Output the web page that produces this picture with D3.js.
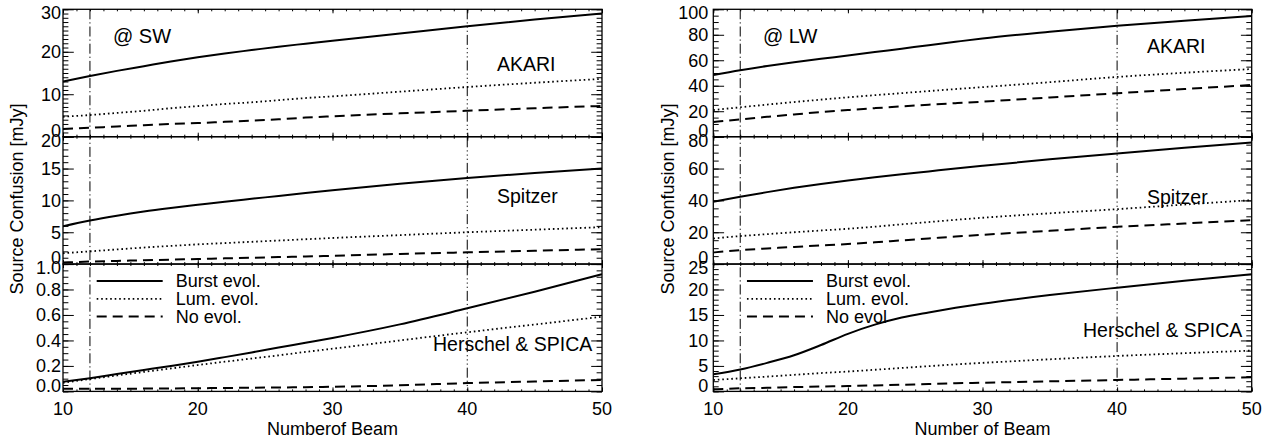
<!DOCTYPE html>
<html>
<head>
<meta charset="utf-8">
<script src="https://cdn.jsdelivr.net/npm/d3@7"></script>
<style>
  body { margin: 0; background: #fff; }
  svg { display: block; }
  text { font-family: "Liberation Sans", Arial, Helvetica, sans-serif; fill: #000; }
</style>
</head>
<body>
<div id="chart"></div>
<script>

var beams = [10, 12, 14, 16, 18, 20, 22, 24, 26, 28, 30, 35, 40, 45, 50];

// @ SW
var swAkariBurst = [13.0, 14.3, 15.5, 16.6, 17.7, 18.7, 19.6, 20.4, 21.2, 21.9, 22.6, 24.3, 26.0, 27.6, 29.0];
var swAkariLum   = [4.7, 5.1, 5.6, 6.1, 6.7, 7.2, 7.7, 8.1, 8.6, 9.1, 9.5, 10.6, 11.7, 12.7, 13.6];
var swAkariNo    = [1.8, 2.1, 2.4, 2.7, 3.0, 3.2, 3.5, 3.8, 4.1, 4.5, 4.8, 5.5, 6.1, 6.7, 7.25];

var swSpitzerBurst = [5.95, 6.85, 7.6, 8.25, 8.8, 9.3, 9.8, 10.25, 10.7, 11.15, 11.6, 12.6, 13.5, 14.3, 15.0];
var swSpitzerLum   = [1.7, 2.0, 2.3, 2.6, 2.85, 3.1, 3.3, 3.5, 3.7, 3.9, 4.1, 4.55, 5.0, 5.4, 5.8];
var swSpitzerNo    = [0.25, 0.4, 0.5, 0.6, 0.7, 0.8, 0.9, 1.0, 1.1, 1.2, 1.3, 1.6, 1.85, 2.1, 2.35];

var swHerschelBurst = [0.076, 0.104, 0.136, 0.168, 0.2, 0.233, 0.269, 0.306, 0.344, 0.382, 0.42, 0.526, 0.652, 0.782, 0.92];
var swHerschelLum   = [0.068, 0.097, 0.125, 0.153, 0.18, 0.207, 0.233, 0.258, 0.283, 0.31, 0.335, 0.40, 0.464, 0.525, 0.586];
var swHerschelNo    = [0.02, 0.02, 0.021, 0.022, 0.023, 0.025, 0.027, 0.029, 0.031, 0.033, 0.036, 0.048, 0.065, 0.078, 0.09];

// @ LW
var lwAkariBurst = [48.4, 52.2, 55.5, 58.4, 61.1, 63.7, 66.4, 69.1, 71.8, 74.5, 77.1, 82.4, 87.1, 91.0, 94.7];
var lwAkariLum   = [20.9, 23.1, 25.2, 27.2, 29.1, 30.9, 32.6, 34.2, 35.8, 37.4, 38.9, 42.8, 46.9, 50.2, 53.1];
var lwAkariNo    = [11.5, 13.6, 15.6, 17.5, 19.3, 20.9, 22.4, 23.8, 25.1, 26.3, 27.5, 30.8, 34.1, 37.4, 40.6];

var lwSpitzerBurst = [39.1, 42.3, 45.2, 47.9, 50.3, 52.5, 54.5, 56.4, 58.2, 60.0, 61.7, 65.8, 69.5, 73.0, 76.4];
var lwSpitzerLum   = [16.1, 17.6, 18.8, 20.0, 21.1, 22.2, 23.5, 25.0, 26.4, 27.8, 29.1, 31.9, 34.5, 37.4, 40.2];
var lwSpitzerNo    = [7.3, 8.8, 9.8, 10.8, 11.7, 12.6, 13.7, 14.9, 16.1, 17.3, 18.4, 20.9, 23.4, 25.5, 27.6];

var lwHerschelBurst = [3.35, 4.3, 5.6, 7.1, 9.1, 11.3, 13.1, 14.5, 15.5, 16.4, 17.2, 18.9, 20.35, 21.7, 23.0];
var lwHerschelLum   = [2.24, 2.57, 2.9, 3.25, 3.6, 3.9, 4.25, 4.6, 4.95, 5.3, 5.6, 6.3, 6.95, 7.5, 8.0];
var lwHerschelNo    = [0.4, 0.6, 0.7, 0.85, 0.95, 1.06, 1.17, 1.3, 1.45, 1.6, 1.7, 1.97, 2.24, 2.5, 2.77];

var panelNames = ["AKARI", "Spitzer", "Herschel & SPICA"];
var legendSW = ["Burst evol.", "Lum. evol.", "No evol."];
var legendLW = ["Burst evol.", "Lum. evol.", "No evol"];
var markerBeams = [12, 40];
var xTicks = [10, 20, 30, 40, 50];

// line styles: burst / lum / no evolution
var styles = [
  { width: 2, dash: null },
  { width: 1.8, dash: "1.6,2.9" },
  { width: 2, dash: "10,6" }
];

var W = 1267, H = 440;
var panelTops = [9.3, 136.7, 264];
var panelH = 127.4;

var sides = [
  {
    id: "sw", x0: 63, x1: 602, tag: "@ SW", tagX: 113, xTitle: "Numberof Beam",
    legend: legendSW, labelGap: 2, yTitleX: 23,
    panels: [
      { domain: [0, 30], major: 10, minor: 1, series: [swAkariBurst, swAkariLum, swAkariNo], fmt: d3.format("d"), label: [497, 70.7] },
      { domain: [0, 20], major: 5, minor: 1, series: [swSpitzerBurst, swSpitzerLum, swSpitzerNo], fmt: d3.format("d"), label: [497, 203.3] },
      { domain: [0, 1], major: 0.2, minor: 0.05, series: [swHerschelBurst, swHerschelLum, swHerschelNo], fmt: d3.format(".1f"), label: [433, 351] }
    ]
  },
  {
    id: "lw", x0: 713.3, x1: 1251.7, tag: "@ LW", tagX: 763, xTitle: "Number of Beam",
    legend: legendLW, labelGap: 5, yTitleX: 674,
    panels: [
      { domain: [0, 100], major: 20, minor: 5, series: [lwAkariBurst, lwAkariLum, lwAkariNo], fmt: d3.format("d"), label: [1147, 52.7] },
      { domain: [0, 80], major: 20, minor: 5, series: [lwSpitzerBurst, lwSpitzerLum, lwSpitzerNo], fmt: d3.format("d"), label: [1147, 204] },
      { domain: [0, 25], major: 5, minor: 1, series: [lwHerschelBurst, lwHerschelLum, lwHerschelNo], fmt: d3.format("d"), label: [1083, 336.7] }
    ]
  }
];

var svg = d3.select("#chart")
  .append("svg")
  .attr("width", W)
  .attr("height", H);

function steps(max, step) {
  var n = Math.round(max / step);
  return d3.range(n + 1).map(function (i) { return +(i * step).toFixed(4); });
}

function styleTicks(g) {
  g.select(".domain").remove();
  g.selectAll(".tick line").attr("stroke", "#000").attr("stroke-width", 1);
}

sides.forEach(function (side) {
  var x = d3.scaleLinear().domain([10, 50]).range([side.x0, side.x1]);
  var g = svg.append("g").attr("class", side.id);

  side.panels.forEach(function (p, i) {
    var top = panelTops[i];
    var bottom = top + panelH;
    var y = d3.scaleLinear().domain(p.domain).range([bottom, top]);
    var clipId = "clip-" + side.id + i;

    g.append("clipPath").attr("id", clipId)
      .append("rect")
      .attr("x", side.x0).attr("y", top)
      .attr("width", side.x1 - side.x0).attr("height", panelH);

    // curves
    var line = d3.line()
      .x(function (d, k) { return x(beams[k]); })
      .y(function (d) { return y(d); })
      .curve(d3.curveMonotoneX);

    p.series.forEach(function (s, k) {
      g.append("path")
        .datum(s)
        .attr("clip-path", "url(#" + clipId + ")")
        .attr("fill", "none")
        .attr("stroke", "#000")
        .attr("stroke-width", styles[k].width)
        .attr("stroke-dasharray", styles[k].dash)
        .attr("d", line);
    });

    // y ticks, inward on both sides
    var majors = steps(p.domain[1], p.major);
    var minors = steps(p.domain[1], p.minor);
    [[d3.axisLeft, side.x0], [d3.axisRight, side.x1]].forEach(function (a) {
      g.append("g").attr("transform", "translate(" + a[1] + ",0)")
        .call(a[0](y).tickValues(minors).tickSize(-5.4).tickFormat(""))
        .call(styleTicks);
      g.append("g").attr("transform", "translate(" + a[1] + ",0)")
        .call(a[0](y).tickValues(majors).tickSize(-10.8).tickFormat(""))
        .call(styleTicks);
    });

    // x ticks on top and bottom of every panel
    [[d3.axisTop, top], [d3.axisBottom, bottom]].forEach(function (a) {
      g.append("g").attr("transform", "translate(0," + a[1] + ")")
        .call(a[0](x).tickValues(d3.range(10, 51)).tickSize(-2).tickFormat(""))
        .call(styleTicks);
      g.append("g").attr("transform", "translate(0," + a[1] + ")")
        .call(a[0](x).tickValues(xTicks).tickSize(-4).tickFormat(""))
        .call(styleTicks);
    });

    // frame
    g.append("rect")
      .attr("x", side.x0).attr("y", top)
      .attr("width", side.x1 - side.x0).attr("height", panelH)
      .attr("fill", "none").attr("stroke", "#000").attr("stroke-width", 1.3);

    // y tick labels (end labels pulled inside the panel)
    g.append("g").selectAll("text")
      .data(majors)
      .join("text")
      .attr("x", side.x0 - side.labelGap)
      .attr("y", function (v) {
        var dy = 0;
        if (v === p.domain[1]) dy = 3.5;
        if (v === p.domain[0]) dy = -6;
        return y(v) + dy;
      })
      .attr("dy", "0.35em")
      .attr("text-anchor", "end")
      .style("font-size", "18px")
      .text(function (v) { return p.fmt(v); });

    g.append("text")
      .attr("x", p.label[0]).attr("y", p.label[1])
      .style("font-size", "19.5px")
      .text(panelNames[i]);
  });

  // vertical reference lines across all three panels
  g.selectAll(".marker")
    .data(markerBeams)
    .join("line")
    .attr("class", "marker")
    .attr("x1", function (d) { return x(d); })
    .attr("x2", function (d) { return x(d); })
    .attr("y1", panelTops[0])
    .attr("y2", panelTops[2] + panelH)
    .attr("stroke", "#000")
    .attr("stroke-width", 1)
    .attr("stroke-dasharray", function (d, i) { return i === 0 ? "10,3,1.2,3" : "10,3,1.2,3,1.2,3,1.2,3"; });

  // x tick labels
  g.append("g").selectAll("text")
    .data(xTicks)
    .join("text")
    .attr("x", function (d) { return x(d); })
    .attr("y", 415)
    .attr("text-anchor", "middle")
    .style("font-size", "18px")
    .text(function (d) { return d; });

  g.append("text")
    .attr("x", (side.x0 + side.x1) / 2).attr("y", 435)
    .attr("text-anchor", "middle")
    .style("font-size", "18px")
    .text(side.xTitle);

  g.append("text")
    .attr("transform", "translate(" + side.yTitleX + ",199) rotate(-90)")
    .attr("text-anchor", "middle")
    .style("font-size", "18px")
    .text("Source Confusion [mJy]");

  g.append("text")
    .attr("x", side.tagX).attr("y", 43.3)
    .style("font-size", "20px")
    .text(side.tag);

  // legend in the bottom panel
  var lx = x(12.5);
  var legend = g.append("g");
  side.legend.forEach(function (t, k) {
    var ly = 281 + k * 17.8;
    legend.append("line")
      .attr("x1", lx).attr("x2", lx + 66)
      .attr("y1", ly).attr("y2", ly)
      .attr("stroke", "#000")
      .attr("stroke-width", styles[k].width)
      .attr("stroke-dasharray", styles[k].dash);
    legend.append("text")
      .attr("x", lx + 79).attr("y", ly + 6)
      .style("font-size", "18px")
      .text(t);
  });
});

</script>
</body>
</html>
